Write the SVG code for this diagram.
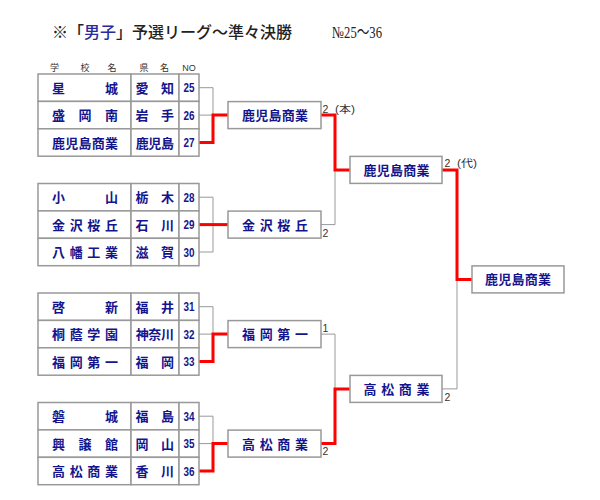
<svg xmlns="http://www.w3.org/2000/svg" width="600" height="500" viewBox="0 0 600 500">
<style>
.bg{fill:#fff}
.cell{fill:#fff;stroke:#999;stroke-width:1.5}
.box{fill:#fff;stroke:#999;stroke-width:1.5}
.nm{font-family:"Noto Sans CJK JP","Noto Sans",sans-serif;font-size:13px;font-weight:700;fill:#14148c;text-anchor:middle}
.no{font-family:"Liberation Sans",Arial,sans-serif;font-size:12.5px;font-weight:700;fill:#14148c;text-anchor:middle}
.hd{font-family:"Noto Sans CJK JP",sans-serif;font-size:9px;fill:#333;text-anchor:middle}
.hdn{font-family:"Liberation Sans",Arial,sans-serif;font-size:9px;fill:#333;text-anchor:middle}
.sc{font-family:"Liberation Sans","Noto Sans CJK JP",sans-serif;font-size:10.5px;fill:#333}
.ttl{font-family:"Noto Sans CJK JP",sans-serif;font-size:16px;font-weight:500;fill:#222}
.ttn{font-family:"Liberation Serif","Noto Sans CJK JP",serif;font-size:17px;fill:#222}
.g{fill:none;stroke:#999;stroke-width:1}
.r{fill:none;stroke:#f00;stroke-width:3}
</style>
<rect class="bg" x="0" y="0" width="600" height="500"/>
<g id="title">
<text class="ttl" x="52" y="38">※「<tspan fill="#2a2aa0">男子</tspan>」予選リーグ～準々決勝</text>
<text class="ttn" x="332" y="38" textLength="50" lengthAdjust="spacingAndGlyphs">№25～36</text>
</g>
<g id="header">
<text class="hd" x="54.5" y="71">学</text>
<text class="hd" x="85" y="71">校</text>
<text class="hd" x="112" y="71">名</text>
<text class="hd" x="144" y="71">県</text>
<text class="hd" x="164.5" y="71">名</text>
<text class="hdn" x="189" y="71">NO</text>
</g>
<g id="connectors">
<path class="g" d="M199,87.7H213V115.1H199"/>
<path class="g" d="M199,197.2H213V252H199"/>
<path class="g" d="M199,306.7H213V334.1H199"/>
<path class="g" d="M199,416.2H213V443.6H199"/>
<path class="g" d="M321,224.6H335V169.9"/>
<path class="g" d="M321,334.1H335V388.9"/>
<path class="g" d="M442,388.9H457V279.4"/>
<path class="r" d="M199,142.5H213V115.1H228"/>
<path class="r" d="M199,224.6H228"/>
<path class="r" d="M199,361.5H213V334.1H228"/>
<path class="r" d="M199,471H213V443.6H228"/>
<path class="r" d="M321,115.1H335V169.9H350"/>
<path class="r" d="M321,443.6H335V388.9H350"/>
<path class="r" d="M442,169.9H457V279.4H472"/>
</g>
<g id="group1">
<rect class="cell" x="38" y="74" width="93" height="27.4"/><rect class="cell" x="131" y="74" width="48" height="27.4"/><rect class="cell" x="179" y="74" width="20" height="27.4"/>
<rect class="cell" x="38" y="101.4" width="93" height="27.4"/><rect class="cell" x="131" y="101.4" width="48" height="27.4"/><rect class="cell" x="179" y="101.4" width="20" height="27.4"/>
<rect class="cell" x="38" y="128.8" width="93" height="27.4"/><rect class="cell" x="131" y="128.8" width="48" height="27.4"/><rect class="cell" x="179" y="128.8" width="20" height="27.4"/>
<text class="nm" x="58.5 111.5" y="92.7">星城</text><text class="nm" x="142 167.5" y="92.7">愛知</text><text class="no" x="189" y="92.2" textLength="11" lengthAdjust="spacingAndGlyphs">25</text>
<text class="nm" x="58.5 85 111.5" y="120.1">盛岡南</text><text class="nm" x="142 167.5" y="120.1">岩手</text><text class="no" x="189" y="119.6" textLength="11" lengthAdjust="spacingAndGlyphs">26</text>
<text class="nm" x="58.5 71.75 85 98.25 111.5" y="147.5">鹿児島商業</text><text class="nm" x="142.2 154.8 167.4" y="147.5">鹿児島</text><text class="no" x="189" y="147" textLength="11" lengthAdjust="spacingAndGlyphs">27</text>
</g>
<g id="group2">
<rect class="cell" x="38" y="183.5" width="93" height="27.4"/><rect class="cell" x="131" y="183.5" width="48" height="27.4"/><rect class="cell" x="179" y="183.5" width="20" height="27.4"/>
<rect class="cell" x="38" y="210.9" width="93" height="27.4"/><rect class="cell" x="131" y="210.9" width="48" height="27.4"/><rect class="cell" x="179" y="210.9" width="20" height="27.4"/>
<rect class="cell" x="38" y="238.3" width="93" height="27.4"/><rect class="cell" x="131" y="238.3" width="48" height="27.4"/><rect class="cell" x="179" y="238.3" width="20" height="27.4"/>
<text class="nm" x="58.5 111.5" y="202.2">小山</text><text class="nm" x="142 167.5" y="202.2">栃木</text><text class="no" x="189" y="201.7" textLength="11" lengthAdjust="spacingAndGlyphs">28</text>
<text class="nm" x="58.5 76.2 93.8 111.5" y="229.6">金沢桜丘</text><text class="nm" x="142 167.5" y="229.6">石川</text><text class="no" x="189" y="229.1" textLength="11" lengthAdjust="spacingAndGlyphs">29</text>
<text class="nm" x="58.5 76.2 93.8 111.5" y="257">八幡工業</text><text class="nm" x="142 167.5" y="257">滋賀</text><text class="no" x="189" y="256.5" textLength="11" lengthAdjust="spacingAndGlyphs">30</text>
</g>
<g id="group3">
<rect class="cell" x="38" y="293" width="93" height="27.4"/><rect class="cell" x="131" y="293" width="48" height="27.4"/><rect class="cell" x="179" y="293" width="20" height="27.4"/>
<rect class="cell" x="38" y="320.4" width="93" height="27.4"/><rect class="cell" x="131" y="320.4" width="48" height="27.4"/><rect class="cell" x="179" y="320.4" width="20" height="27.4"/>
<rect class="cell" x="38" y="347.8" width="93" height="27.4"/><rect class="cell" x="131" y="347.8" width="48" height="27.4"/><rect class="cell" x="179" y="347.8" width="20" height="27.4"/>
<text class="nm" x="58.5 111.5" y="311.7">啓新</text><text class="nm" x="142 167.5" y="311.7">福井</text><text class="no" x="189" y="311.2" textLength="11" lengthAdjust="spacingAndGlyphs">31</text>
<text class="nm" x="58.5 76.2 93.8 111.5" y="339.1">桐蔭学園</text><text class="nm" x="142.2 154.8 167.4" y="339.1">神奈川</text><text class="no" x="189" y="338.6" textLength="11" lengthAdjust="spacingAndGlyphs">32</text>
<text class="nm" x="58.5 76.2 93.8 111.5" y="366.5">福岡第一</text><text class="nm" x="142 167.5" y="366.5">福岡</text><text class="no" x="189" y="366" textLength="11" lengthAdjust="spacingAndGlyphs">33</text>
</g>
<g id="group4">
<rect class="cell" x="38" y="402.5" width="93" height="27.4"/><rect class="cell" x="131" y="402.5" width="48" height="27.4"/><rect class="cell" x="179" y="402.5" width="20" height="27.4"/>
<rect class="cell" x="38" y="429.9" width="93" height="27.4"/><rect class="cell" x="131" y="429.9" width="48" height="27.4"/><rect class="cell" x="179" y="429.9" width="20" height="27.4"/>
<rect class="cell" x="38" y="457.3" width="93" height="27.4"/><rect class="cell" x="131" y="457.3" width="48" height="27.4"/><rect class="cell" x="179" y="457.3" width="20" height="27.4"/>
<text class="nm" x="58.5 111.5" y="421.2">磐城</text><text class="nm" x="142 167.5" y="421.2">福島</text><text class="no" x="189" y="420.7" textLength="11" lengthAdjust="spacingAndGlyphs">34</text>
<text class="nm" x="58.5 85 111.5" y="448.6">興譲館</text><text class="nm" x="142 167.5" y="448.6">岡山</text><text class="no" x="189" y="448.1" textLength="11" lengthAdjust="spacingAndGlyphs">35</text>
<text class="nm" x="58.5 76.2 93.8 111.5" y="476">高松商業</text><text class="nm" x="142 167.5" y="476">香川</text><text class="no" x="189" y="475.5" textLength="11" lengthAdjust="spacingAndGlyphs">36</text>
</g>
<g id="r2-kagoshima">
<rect class="box" x="228" y="101.6" width="93" height="27"/>
<text class="nm" x="248.5 261.75 275 288.25 301.5" y="120.1">鹿児島商業</text>
<text class="sc" x="322.5" y="112.5">2</text>
<text class="sc" x="335" y="112.5" textLength="20" lengthAdjust="spacingAndGlyphs">(本)</text>
</g>
<g id="r2-kanazawa">
<rect class="box" x="228" y="211.1" width="93" height="27"/>
<text class="nm" x="248.5 266.2 283.8 301.5" y="229.6">金沢桜丘</text>
<text class="sc" x="322.5" y="236.5">2</text>
</g>
<g id="r2-fukuoka">
<rect class="box" x="228" y="320.6" width="93" height="27"/>
<text class="nm" x="248.5 266.2 283.8 301.5" y="339.1">福岡第一</text>
<text class="sc" x="322.5" y="331.5">1</text>
</g>
<g id="r2-takamatsu">
<rect class="box" x="228" y="430.1" width="93" height="27"/>
<text class="nm" x="248.5 266.2 283.8 301.5" y="448.6">高松商業</text>
<text class="sc" x="322.5" y="454.5">2</text>
</g>
<g id="r3-kagoshima">
<rect class="box" x="350" y="156.4" width="92" height="27"/>
<text class="nm" x="370 383.25 396.5 409.75 423" y="174.9">鹿児島商業</text>
<text class="sc" x="444.5" y="167">2</text>
<text class="sc" x="457" y="167" textLength="20" lengthAdjust="spacingAndGlyphs">(代)</text>
</g>
<g id="r3-takamatsu">
<rect class="box" x="350" y="375.4" width="92" height="27"/>
<text class="nm" x="370 387.7 405.3 423" y="393.9">高松商業</text>
<text class="sc" x="444.5" y="400.5">2</text>
</g>
<g id="final">
<rect class="box" x="472" y="265.9" width="92" height="27"/>
<text class="nm" x="491.5 504.75 518 531.25 544.5" y="284.4">鹿児島商業</text>
</g>
</svg>
